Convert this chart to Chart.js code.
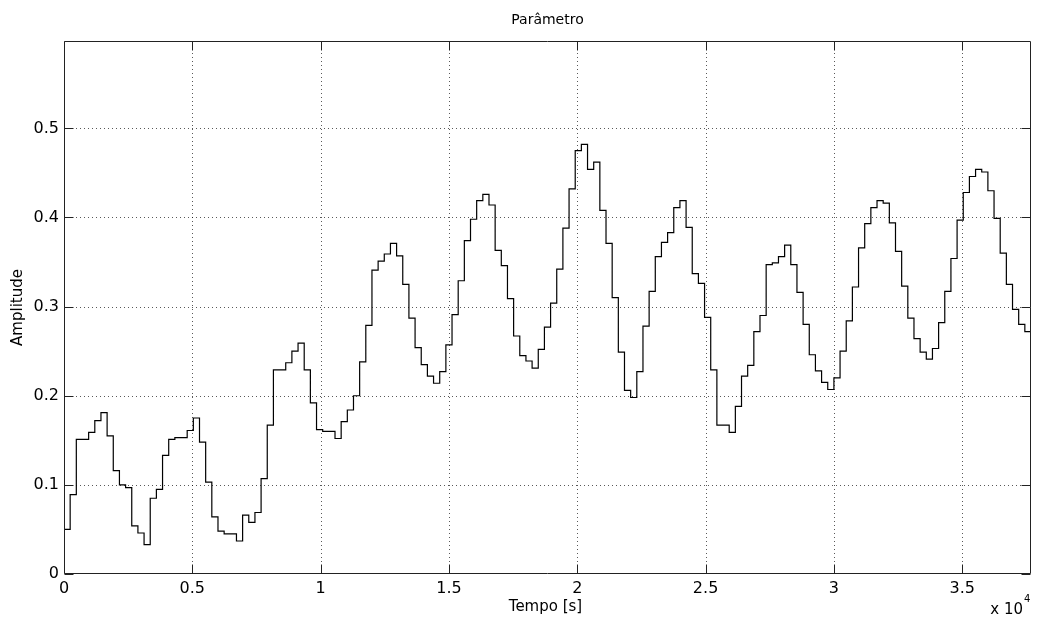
<!DOCTYPE html>
<html>
<head>
<meta charset="utf-8">
<title>Parâmetro</title>
<script src="https://cdn.jsdelivr.net/npm/chart.js@4/dist/chart.umd.min.js"></script>
<style>
  html, body { margin: 0; padding: 0; background: #ffffff; }
  canvas { display: block; }
</style>
</head>
<body>
<canvas id="chart" width="1037" height="630"></canvas>
<script>
// Sampling interval of the held (zero-order) signal, in seconds
const STEP_SECONDS = 240;

// Amplitude held over each 240 s interval, starting at t = 0
const amplitude = [
  0.050, 0.089, 0.151, 0.151, 0.159, 0.172, 0.181, 0.155, 0.116, 0.100,
  0.097, 0.054, 0.046, 0.033, 0.085, 0.095, 0.133, 0.151, 0.153, 0.153,
  0.161, 0.175, 0.148, 0.103, 0.064, 0.048, 0.045, 0.045, 0.037, 0.066,
  0.058, 0.069, 0.107, 0.167, 0.229, 0.229, 0.237, 0.250, 0.259, 0.229,
  0.192, 0.162, 0.160, 0.160, 0.152, 0.171, 0.184, 0.200, 0.238, 0.279,
  0.341, 0.351, 0.359, 0.371, 0.357, 0.325, 0.287, 0.254, 0.235, 0.222,
  0.214, 0.227, 0.257, 0.291, 0.329, 0.374, 0.398, 0.419, 0.426, 0.414,
  0.363, 0.346, 0.309, 0.267, 0.245, 0.239, 0.231, 0.252, 0.277, 0.304,
  0.342, 0.388, 0.432, 0.475, 0.482, 0.454, 0.462, 0.408, 0.371, 0.310,
  0.249, 0.206, 0.198, 0.227, 0.278, 0.317, 0.356, 0.372, 0.383, 0.411,
  0.419, 0.389, 0.337, 0.326, 0.288, 0.229, 0.167, 0.167, 0.159, 0.188,
  0.222, 0.234, 0.272, 0.290, 0.347, 0.349, 0.356, 0.369, 0.347, 0.316,
  0.280, 0.246, 0.228, 0.215, 0.207, 0.220, 0.250, 0.284, 0.322, 0.366,
  0.393, 0.411, 0.419, 0.416, 0.394, 0.362, 0.323, 0.287, 0.264, 0.249,
  0.241, 0.253, 0.282, 0.317, 0.354, 0.397, 0.428, 0.446, 0.454, 0.451,
  0.430, 0.399, 0.360, 0.325, 0.297, 0.280, 0.272
];

// Axis ticks (time axis is labelled in units of 10^4 s)
const xTicks = [0, 5000, 10000, 15000, 20000, 25000, 30000, 35000];
const xTickLabels = ['0', '0.5', '1', '1.5', '2', '2.5', '3', '3.5'];
const yTicks = [0, 0.1, 0.2, 0.3, 0.4, 0.5];
const yTickLabels = ['0', '0.1', '0.2', '0.3', '0.4', '0.5'];

const X_MAX = amplitude.length * STEP_SECONDS;
const Y_MAX = 0.598;

const FONT = '"DejaVu Sans", "Liberation Sans", Arial, sans-serif';

// Stair points: each value is held until the next sample; the last one runs to the end
const stairs = amplitude.map((v, i) => ({ x: i * STEP_SECONDS, y: v }));
stairs.push({ x: X_MAX, y: amplitude[amplitude.length - 1] });

// Dotted grid, boxed axes with inward ticks, and the figure texts
const matlabFrame = {
  id: 'matlabFrame',
  beforeDatasetsDraw(chart) {
    const { ctx, chartArea: a, scales: { x, y } } = chart;
    ctx.save();
    ctx.strokeStyle = 'rgba(0,0,0,0.65)';
    ctx.lineWidth = 1;
    ctx.setLineDash([1, 3]);
    ctx.beginPath();
    xTicks.forEach(v => {
      if (v <= 0) return;
      const px = Math.round(x.getPixelForValue(v)) + 0.5;
      ctx.moveTo(px, a.top);
      ctx.lineTo(px, a.bottom);
    });
    yTicks.forEach(v => {
      if (v <= 0) return;
      const py = Math.round(y.getPixelForValue(v)) + 0.5;
      ctx.moveTo(a.left, py);
      ctx.lineTo(a.right, py);
    });
    ctx.stroke();
    ctx.restore();
  },
  afterDraw(chart) {
    const { ctx, chartArea: a, scales: { x, y } } = chart;
    const L = a.left + 0.5, R = a.right - 0.5, T = a.top + 0.5, B = a.bottom - 0.5;
    const tickLen = 9;
    ctx.save();
    ctx.strokeStyle = '#222';
    ctx.lineWidth = 1;
    ctx.setLineDash([]);
    ctx.beginPath();
    ctx.rect(L, T, R - L, B - T);
    xTicks.forEach(v => {
      const px = Math.round(x.getPixelForValue(v)) + 0.5;
      ctx.moveTo(px, B); ctx.lineTo(px, B - tickLen);
      ctx.moveTo(px, T); ctx.lineTo(px, T + tickLen);
    });
    yTicks.forEach(v => {
      const py = Math.round(y.getPixelForValue(v)) + 0.5;
      ctx.moveTo(L, py); ctx.lineTo(L + tickLen, py);
      ctx.moveTo(R, py); ctx.lineTo(R - tickLen, py);
    });
    ctx.stroke();

    const cx = (a.left + a.right) / 2;
    const cy = (a.top + a.bottom) / 2;
    ctx.fillStyle = '#000';
    ctx.textAlign = 'center';
    ctx.textBaseline = 'middle';

    ctx.font = '14px ' + FONT;
    ctx.fillText('Parâmetro', cx, 20);

    ctx.font = '15px ' + FONT;
    ctx.fillText('Tempo [s]', cx - 2, 607);

    ctx.save();
    ctx.translate(18, cy);
    ctx.rotate(-Math.PI / 2);
    ctx.fillText('Amplitude', 0, 0);
    ctx.restore();

    // exponent of the time axis
    ctx.textAlign = 'right';
    ctx.textBaseline = 'alphabetic';
    ctx.font = '15px ' + FONT;
    ctx.fillText('x 10', 1023, 614);
    ctx.textAlign = 'left';
    ctx.font = '10px ' + FONT;
    ctx.fillText('4', 1024, 602);
    ctx.restore();
  }
};

new Chart(document.getElementById('chart'), {
  type: 'line',
  data: {
    datasets: [{
      data: stairs,
      stepped: true,
      borderColor: '#000000',
      borderWidth: 1.2,
      pointRadius: 0,
      fill: false,
      tension: 0
    }]
  },
  options: {
    responsive: false,
    animation: false,
    devicePixelRatio: 1,
    layout: { padding: { left: 0, top: 41, right: 6, bottom: 0 } },
    plugins: {
      legend: { display: false },
      tooltip: { enabled: false },
      title: { display: false }
    },
    scales: {
      x: {
        type: 'linear',
        min: 0,
        max: X_MAX,
        grid: { display: false, drawTicks: false },
        border: { display: false },
        afterBuildTicks: s => { s.ticks = xTicks.map(v => ({ value: v })); },
        afterFit: s => { s.height = 56; },
        ticks: {
          autoSkip: false,
          maxRotation: 0,
          padding: 5,
          color: '#000',
          font: { family: FONT, size: 16 },
          callback: v => xTickLabels[xTicks.indexOf(v)]
        }
      },
      y: {
        type: 'linear',
        min: 0,
        max: Y_MAX,
        grid: { display: false, drawTicks: false },
        border: { display: false },
        afterBuildTicks: s => { s.ticks = yTicks.map(v => ({ value: v })); },
        afterFit: s => { s.width = 64; },
        ticks: {
          autoSkip: false,
          padding: 5,
          color: '#000',
          font: { family: FONT, size: 16 },
          callback: v => yTickLabels[yTicks.findIndex(t => Math.abs(t - v) < 1e-9)]
        }
      }
    }
  },
  plugins: [matlabFrame]
});
</script>
</body>
</html>
